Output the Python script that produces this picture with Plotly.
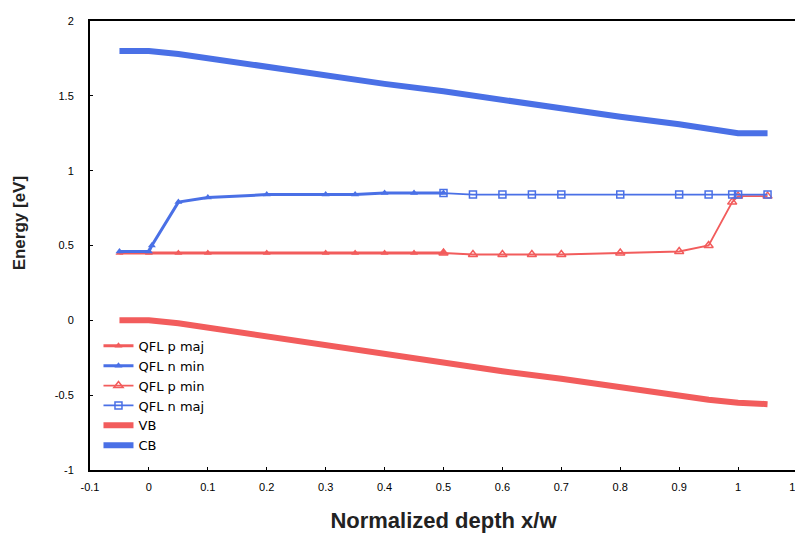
import plotly.graph_objects as go

RED = "#f25c5c"
BLUE = "#4a70e6"

# QFL p maj (filled red)
x_pmaj = [-0.05, 0.0, 0.05, 0.1, 0.2, 0.3, 0.35, 0.4, 0.45, 0.5]
y_pmaj = [0.45, 0.45, 0.45, 0.45, 0.45, 0.45, 0.45, 0.45, 0.45, 0.45]

# QFL n min (filled blue)
x_nmin = [-0.05, 0.0, 0.005, 0.05, 0.1, 0.2, 0.3, 0.35, 0.4, 0.45, 0.5]
y_nmin = [0.46, 0.46, 0.50, 0.79, 0.82, 0.84, 0.84, 0.84, 0.85, 0.85, 0.85]

# QFL p min (open red)
x_pmin = [0.5, 0.55, 0.6, 0.65, 0.7, 0.8, 0.9, 0.95, 0.99, 1.0, 1.05]
y_pmin = [0.45, 0.44, 0.44, 0.44, 0.44, 0.45, 0.46, 0.50, 0.79, 0.83, 0.83]

# QFL n maj (open blue)
x_nmaj = [0.5, 0.55, 0.6, 0.65, 0.7, 0.8, 0.9, 0.95, 0.99, 1.0, 1.05]
y_nmaj = [0.85, 0.84, 0.84, 0.84, 0.84, 0.84, 0.84, 0.84, 0.84, 0.84, 0.84]

# Bands
x_band = [-0.05, 0.0, 0.05, 0.1, 0.2, 0.3, 0.4, 0.5, 0.6, 0.7, 0.8, 0.9, 0.95, 1.0, 1.05]
y_vb = [0.0, 0.0, -0.02, -0.05, -0.11, -0.17, -0.23, -0.28, -0.34, -0.39, -0.45, -0.50, -0.53, -0.55, -0.56]
y_cb = [1.80, 1.80, 1.78, 1.75, 1.70, 1.64, 1.58, 1.53, 1.47, 1.42, 1.36, 1.31, 1.28, 1.25, 1.25]

x_ticks = [-0.1, 0, 0.1, 0.2, 0.3, 0.4, 0.5, 0.6, 0.7, 0.8, 0.9, 1, 1.1]
x_ticklabels = ["-0.1", "0", "0.1", "0.2", "0.3", "0.4", "0.5", "0.6", "0.7", "0.8", "0.9", "1", "1.1"]
y_ticks = [-1, -0.5, 0, 0.5, 1, 1.5, 2]
y_ticklabels = ["-1", "-0.5", "0", "0.5", "1", "1.5", "2"]

fig = go.Figure()
fig.add_trace(go.Scatter(x=x_pmaj, y=y_pmaj, name="QFL p maj", mode="lines+markers",
                         line=dict(color=RED, width=3),
                         marker=dict(symbol="triangle-up", size=7, color=RED)))
fig.add_trace(go.Scatter(x=x_nmin, y=y_nmin, name="QFL n min", mode="lines+markers",
                         line=dict(color=BLUE, width=3),
                         marker=dict(symbol="triangle-up", size=7, color=BLUE)))
fig.add_trace(go.Scatter(x=x_pmin, y=y_pmin, name="QFL p min", mode="lines+markers",
                         line=dict(color=RED, width=1.8),
                         marker=dict(symbol="triangle-up-open", size=8, color=RED, line=dict(width=1.5))))
fig.add_trace(go.Scatter(x=x_nmaj, y=y_nmaj, name="QFL n maj", mode="lines+markers",
                         line=dict(color=BLUE, width=1.8),
                         marker=dict(symbol="square-open", size=7, color=BLUE, line=dict(width=1.5))))
fig.add_trace(go.Scatter(x=x_band, y=y_vb, name="VB", mode="lines",
                         line=dict(color=RED, width=6)))
fig.add_trace(go.Scatter(x=x_band, y=y_cb, name="CB", mode="lines",
                         line=dict(color=BLUE, width=6)))

axis_common = dict(showline=True, linecolor="black", linewidth=2, mirror=True,
                   showgrid=False, zeroline=False, ticks="inside", ticklen=3,
                   tickcolor="black", tickfont=dict(family="Liberation Sans", size=11, color="black"))

fig.update_xaxes(range=[-0.1, 1.1], tickvals=x_ticks, ticktext=x_ticklabels,
                 ticklabelstandoff=6,
                 title=dict(text="<b>Normalized depth x/w</b>", standoff=20,
                            font=dict(family="Liberation Sans", size=22, color="#222")),
                 **axis_common)
fig.update_yaxes(range=[-1, 2], tickvals=y_ticks, ticktext=y_ticklabels,
                 ticklabelstandoff=12,
                 **axis_common)

fig.add_annotation(text="<b>Energy [eV]</b>", xref="paper", yref="paper",
                   x=-0.1, y=0.55, xanchor="center", yanchor="middle",
                   textangle=-90, showarrow=False,
                   font=dict(family="Liberation Sans", size=17, color="#222"))

fig.update_layout(
    width=803, height=534,
    margin=dict(l=82, r=14, t=13, b=72, autoexpand=False),
    paper_bgcolor="white", plot_bgcolor="white",
    showlegend=True,
    legend=dict(x=0.012, y=0.31, xanchor="left", yanchor="top",
                bgcolor="rgba(0,0,0,0)", tracegroupgap=0,
                font=dict(family="DejaVu Sans", size=13, color="black"),
                itemwidth=30),
)

fig.write_html("out.html")
